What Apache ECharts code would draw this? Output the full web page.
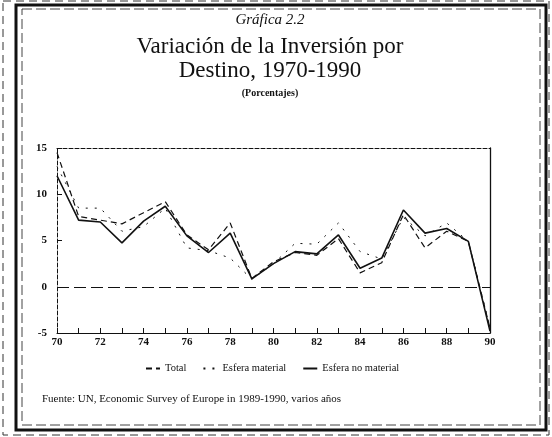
<!DOCTYPE html>
<html>
<head>
<meta charset="utf-8">
<script src="https://cdn.jsdelivr.net/npm/echarts@6/dist/echarts.min.js"></script>
<style>
  html, body { margin: 0; padding: 0; background: #fff; }
  #chart { width: 552px; height: 437px; }
</style>
</head>
<body>
<div id="chart"></div>
<script>
// años 1970-1990
const years = [1970, 1971, 1972, 1973, 1974, 1975, 1976, 1977, 1978, 1979, 1980,
  1981, 1982, 1983, 1984, 1985, 1986, 1987, 1988, 1989, 1990]

const total = [14.5, 7.6, 7.2, 6.8, 8.0, 9.2, 5.6, 4.0, 6.9, 0.9, 2.7,
  3.7, 3.4, 5.2, 1.5, 2.6, 7.8, 4.2, 6.0, 4.9, -4.5]
const esferaMaterial = [13.0, 8.5, 8.5, 6.0, 6.5, 8.5, 4.2, 3.9, 3.1, 0.8, 2.5,
  4.7, 4.6, 6.9, 3.8, 3.0, 7.5, 5.5, 6.9, 4.9, -4.4]
const esferaNoMaterial = [12.0, 7.2, 7.0, 4.75, 7.1, 8.7, 5.5, 3.7, 5.8, 0.85, 2.5,
  3.8, 3.55, 5.6, 2.0, 3.1, 8.3, 5.8, 6.3, 4.9, -4.8]

const yTicks = [-5, 0, 5, 10, 15]

const FONT = 'Liberation Serif'
const INK = '#111'

function pairs(vals) {
  return years.map((y, i) => [y, vals[i]])
}

let chart = echarts.init(document.getElementById('chart'))

chart.setOption({
  animation: false,
  backgroundColor: '#fff',
  title: [
    { text: 'Gráfica 2.2', left: 265, top: 8, textAlign: 'center',
      textStyle: { fontFamily: FONT, fontStyle: 'italic', fontWeight: 'normal', fontSize: 15, color: INK } },
    { text: 'Variación de la Inversión por\nDestino, 1970-1990', left: 265, top: 30, textAlign: 'center',
      textStyle: { fontFamily: FONT, fontWeight: 'normal', fontSize: 23, lineHeight: 24, color: INK } },
    { text: '(Porcentajes)', left: 265, top: 83, textAlign: 'center',
      textStyle: { fontFamily: FONT, fontWeight: 'bold', fontSize: 10, color: INK } }
  ],
  grid: { left: 57, right: 62, top: 148, bottom: 104 },
  legend: {
    left: 140, top: 358,
    itemWidth: 14, itemHeight: 8, itemGap: 16,
    itemStyle: { opacity: 0 },
    textStyle: { fontFamily: FONT, fontSize: 10.5, color: INK },
    data: ['Total', 'Esfera material', 'Esfera no material']
  },
  xAxis: [
    {
      type: 'value', min: 1970, max: 1990, interval: 1,
      axisLine: { onZero: false, lineStyle: { color: INK } },
      axisTick: { inside: true, length: 5, lineStyle: { color: INK } },
      splitLine: { show: false },
      axisLabel: {
        fontFamily: FONT, fontWeight: 'bold', fontSize: 11, color: INK, margin: 4,
        formatter: v => (v % 2 === 0 ? String(v).slice(2) : '')
      }
    },
    {
      type: 'value', position: 'top', min: 1970, max: 1990,
      axisLine: { show: true, onZero: false, lineStyle: { color: INK, type: 'dashed', width: 1 } },
      axisTick: { show: false }, axisLabel: { show: false }, splitLine: { show: false }
    }
  ],
  yAxis: [
    {
      type: 'value', min: yTicks[0], max: yTicks[yTicks.length - 1], interval: 5,
      axisLine: { show: true, onZero: false, lineStyle: { color: INK, type: 'dashed' } },
      axisTick: { show: true, inside: true, length: 5, lineStyle: { color: INK } },
      splitLine: { show: false },
      axisLabel: { fontFamily: FONT, fontWeight: 'bold', fontSize: 11, color: INK, margin: 10 }
    },
    {
      type: 'value', position: 'right', min: -5, max: 15,
      axisLine: { show: true, onZero: false, lineStyle: { color: INK, width: 1.3 } },
      axisTick: { show: false }, axisLabel: { show: false }, splitLine: { show: false }
    }
  ],
  series: [
    {
      name: 'Total', type: 'line', data: pairs(total), symbol: 'none',
      lineStyle: { color: INK, width: 1.2, type: [6, 4] }, itemStyle: { color: INK },
      markLine: {
        silent: true, symbol: 'none', label: { show: false },
        lineStyle: { color: INK, width: 1.2, type: [12, 5] },
        data: [{ yAxis: 0 }]
      }
    },
    {
      name: 'Esfera material', type: 'line', data: pairs(esferaMaterial), symbol: 'none',
      lineStyle: { color: INK, width: 1, type: [2, 7] }, itemStyle: { color: INK }
    },
    {
      name: 'Esfera no material', type: 'line', data: pairs(esferaNoMaterial), symbol: 'none',
      lineStyle: { color: INK, width: 1.6 }, itemStyle: { color: INK }
    }
  ],
  graphic: [
    // marco
    { type: 'rect', shape: { x: 3, y: 1, width: 546, height: 434 }, silent: true,
      style: { fill: 'none', stroke: '#333', lineWidth: 1, lineDash: [8, 5] } },
    { type: 'rect', shape: { x: 16, y: 5, width: 530, height: 425 }, silent: true,
      style: { fill: 'none', stroke: INK, lineWidth: 3 } },
    { type: 'rect', shape: { x: 22, y: 9, width: 518, height: 416 }, silent: true,
      style: { fill: 'none', stroke: '#444', lineWidth: 1, lineDash: [10, 4] } },
    { type: 'text', left: 42, top: 394, silent: true,
      style: { text: 'Fuente: UN, Economic Survey of Europe in 1989-1990, varios años',
        font: '11px "Liberation Serif"', fill: INK } }
  ]
})
</script>
</body>
</html>
